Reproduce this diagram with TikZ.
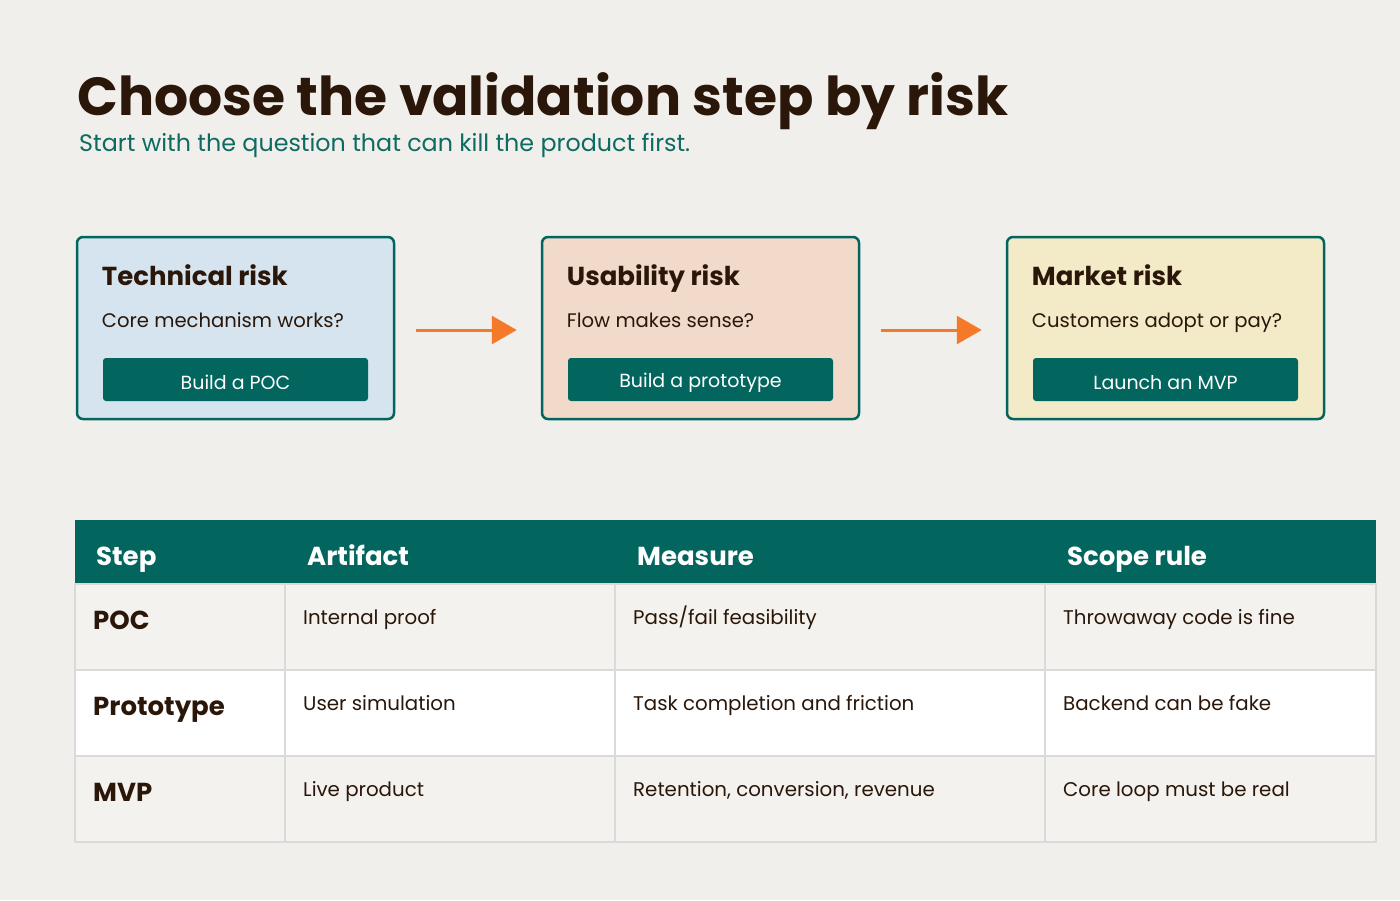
\documentclass[tikz,border=0pt]{standalone}
\usepackage{fontspec}
\setmainfont{Poppins}
\usepackage{xcolor}
\usetikzlibrary{positioning,arrows.meta}
\definecolor{bg}{HTML}{F1EFEB}
\definecolor{ink}{HTML}{2A1709}
\definecolor{teal}{HTML}{02665F}
\definecolor{tealtx}{HTML}{0E6B62}
\definecolor{techbg}{HTML}{D5E4EF}
\definecolor{usebg}{HTML}{F2DACB}
\definecolor{mktbg}{HTML}{F3EAC8}
\definecolor{orng}{HTML}{F47A2A}
\definecolor{rowa}{HTML}{F4F2EE}
\definecolor{grid}{HTML}{DADADA}
\tikzset{
  card/.style={draw=teal,line width=2.5pt,rounded corners=6pt,minimum width=317pt,minimum height=182pt,inner sep=0pt},
  btn/.style={fill=teal,rounded corners=3pt,minimum width=265pt,minimum height=43pt,inner sep=0pt,text height=20pt,text=white,font=\fontsize{19}{22}\selectfont},
  ctitle/.style={anchor=base west,inner sep=0pt,text=ink,font=\fontsize{26}{30}\selectfont\bfseries},
  cq/.style={anchor=base west,inner sep=0pt,text=ink,font=\fontsize{19.6}{24}\selectfont},
  flow/.style={draw=orng,line width=3pt,-{Triangle[length=25pt,width=28pt]}},
  head/.style={fill=teal,anchor=north west,inner sep=0pt,minimum width=1301pt,minimum height=64pt},
  hlbl/.style={anchor=base west,inner sep=0pt,text=white,font=\fontsize{26}{30}\selectfont\bfseries},
  cell/.style={draw=grid,line width=2pt,anchor=north west,inner sep=0pt,outer sep=0pt,minimum height=86pt},
  stp/.style={anchor=base west,inner sep=0pt,text=ink,font=\fontsize{26}{30}\selectfont\bfseries},
  txt/.style={anchor=base west,inner sep=0pt,text=ink,font=\fontsize{19.8}{24}\selectfont}
}
\begin{document}
\begin{tikzpicture}[x=1pt,y=-1pt]
\fill[bg] (0,0) rectangle (1400,900);
\useasboundingbox (0,0) rectangle (1400,900);
% heading
\node[anchor=base west,inner sep=0pt,text=ink,font=\fontsize{53.6}{60}\selectfont\bfseries] (title) at (77,115) {Choose the validation step by risk};
\node[anchor=base west,inner sep=0pt,text=tealtx,font=\fontsize{23.8}{28}\selectfont] (sub) at (79,151) {Start with the question that can kill the product first.};
% risk cards
\node[card,fill=techbg] (tech) at (235.5,328) {}; \node[card,fill=usebg] (use) at (700.5,328) {}; \node[card,fill=mktbg] (mkt) at (1165.5,328) {};
\node[ctitle] (techt) at ([xshift=26pt,yshift=-50pt]tech.north west) {Technical risk};
\node[ctitle] (uset) at ([xshift=26pt,yshift=-50pt]use.north west) {Usability risk};
\node[ctitle] (mktt) at ([xshift=26pt,yshift=-50pt]mkt.north west) {Market risk};
\node[cq] (techq) at ([xshift=26pt,yshift=-92pt]tech.north west) {Core mechanism works?};
\node[cq] (useq) at ([xshift=26pt,yshift=-92pt]use.north west) {Flow makes sense?};
\node[cq] (mktq) at ([xshift=26pt,yshift=-92pt]mkt.north west) {Customers adopt or pay?};
\node[btn] (techb) at ([yshift=-51.5pt]tech.center) {Build a POC};
\node[btn] (useb) at ([yshift=-51.5pt]use.center) {Build a prototype};
\node[btn] (mktb) at ([yshift=-51.5pt]mkt.center) {Launch an MVP};
\draw[flow,shorten <=21pt,shorten >=24pt] ([yshift=-2pt]tech.east) -- ([yshift=-2pt]use.west);
\draw[flow,shorten <=21pt,shorten >=24pt] ([yshift=-2pt]use.east) -- ([yshift=-2pt]mkt.west);
% table
\node[head] (hd) at (75,520) {};
\node[hlbl] (h1) at ([xshift=21pt,yshift=-45pt]hd.north west) {Step}; \node[hlbl] (h2) at ([xshift=232pt,yshift=-45pt]hd.north west) {Artifact};
\node[hlbl] (h3) at ([xshift=562pt,yshift=-45pt]hd.north west) {Measure}; \node[hlbl] (h4) at ([xshift=992pt,yshift=-45pt]hd.north west) {Scope rule};
\node[cell,fill=rowa,minimum width=210pt] (a1) at (75,584) {}; \node[cell,fill=rowa,minimum width=330pt,right=0pt of a1] (b1) {};
\node[cell,fill=rowa,minimum width=430pt,right=0pt of b1] (c1) {}; \node[cell,fill=rowa,minimum width=331pt,right=0pt of c1] (d1) {};
\node[cell,fill=white,minimum width=210pt,below=0pt of a1] (a2) {}; \node[cell,fill=white,minimum width=330pt,right=0pt of a2] (b2) {};
\node[cell,fill=white,minimum width=430pt,right=0pt of b2] (c2) {}; \node[cell,fill=white,minimum width=331pt,right=0pt of c2] (d2) {};
\node[cell,fill=rowa,minimum width=210pt,below=0pt of a2] (a3) {}; \node[cell,fill=rowa,minimum width=330pt,right=0pt of a3] (b3) {};
\node[cell,fill=rowa,minimum width=430pt,right=0pt of b3] (c3) {}; \node[cell,fill=rowa,minimum width=331pt,right=0pt of c3] (d3) {};
\node[stp] (s1) at ([xshift=18pt,yshift=-45pt]a1.north west) {POC}; \node[txt] (t1) at ([xshift=18pt,yshift=-40pt]b1.north west) {Internal proof};
\node[txt] (m1) at ([xshift=18pt,yshift=-40pt]c1.north west) {Pass/fail feasibility}; \node[txt] (r1) at ([xshift=18pt,yshift=-40pt]d1.north west) {Throwaway code is fine};
\node[stp] (s2) at ([xshift=18pt,yshift=-45pt]a2.north west) {Prototype}; \node[txt] (t2) at ([xshift=18pt,yshift=-40pt]b2.north west) {User simulation};
\node[txt] (m2) at ([xshift=18pt,yshift=-40pt]c2.north west) {Task completion and friction}; \node[txt] (r2) at ([xshift=18pt,yshift=-40pt]d2.north west) {Backend can be fake};
\node[stp] (s3) at ([xshift=18pt,yshift=-45pt]a3.north west) {MVP}; \node[txt] (t3) at ([xshift=18pt,yshift=-40pt]b3.north west) {Live product};
\node[txt] (m3) at ([xshift=18pt,yshift=-40pt]c3.north west) {Retention, conversion, revenue}; \node[txt] (r3) at ([xshift=18pt,yshift=-40pt]d3.north west) {Core loop must be real};
\end{tikzpicture}
\end{document}
